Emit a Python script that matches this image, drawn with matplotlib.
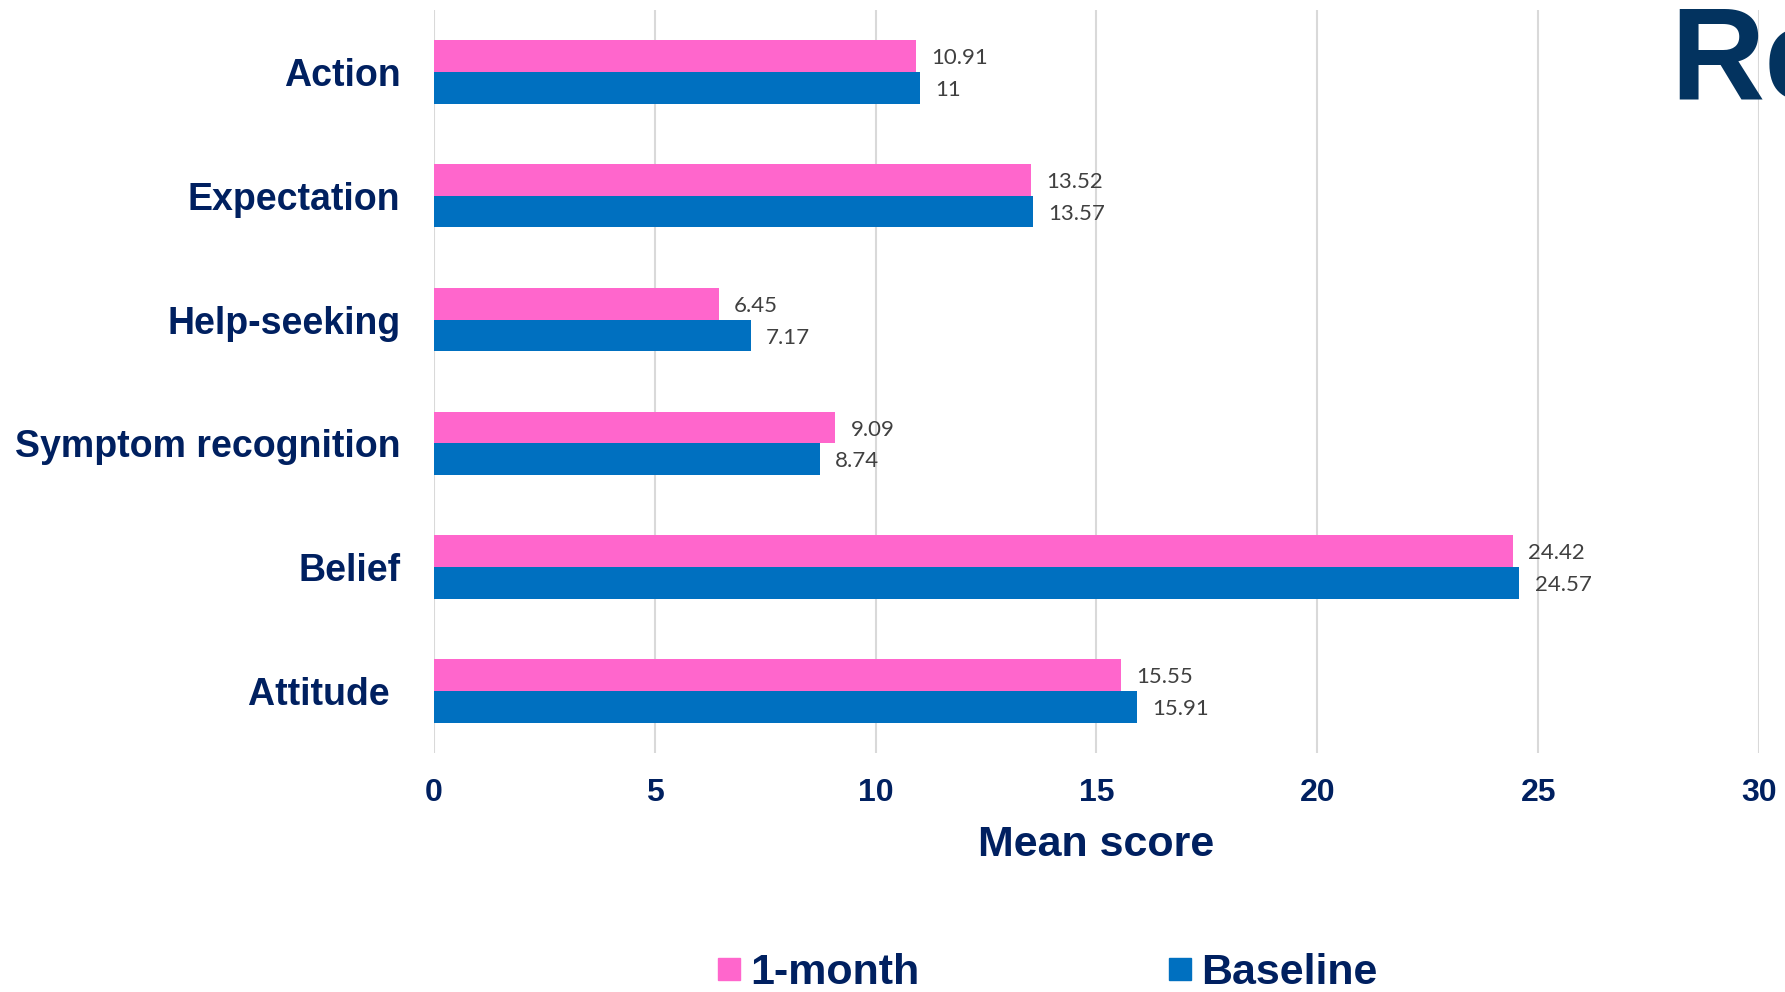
import matplotlib.pyplot as plt
from matplotlib.lines import Line2D
import numpy as np

# Data (top to bottom in the chart)
categories = ['Action', 'Expectation', 'Help-seeking', 'Symptom recognition', 'Belief', 'Attitude ']
one_month = [10.91, 13.52, 6.45, 9.09, 24.42, 15.55]
baseline = [11, 13.57, 7.17, 8.74, 24.57, 15.91]
x_ticks = [0, 5, 10, 15, 20, 25, 30]

pink = '#FF66CC'
blue = '#0070C0'
navy = '#002060'

plt.rcParams['font.family'] = ['Liberation Sans', 'DejaVu Sans']

fig = plt.figure(figsize=(17.85, 9.92), dpi=100)
ax = fig.add_axes([0.243, 0.241, 0.7425, 0.749])

# barh puts index 0 at bottom, so reverse the order
n = len(categories)
y = np.arange(n)[::-1]
h = 0.257

bars_m = ax.barh(y + h / 2, one_month, height=h, color=pink, label='1-month')
bars_b = ax.barh(y - h / 2, baseline, height=h, color=blue, label='Baseline')

# value labels
for bars in (bars_m, bars_b):
    for rect, v in zip(bars, bars.datavalues):
        ax.annotate(f'{v:g}', (rect.get_width(), rect.get_y() + rect.get_height() / 2),
                    xytext=(11, -1.5), textcoords='offset points', va='center', ha='left',
                    fontsize=16, color='#404040', family=['Lato', 'DejaVu Sans'])

ax.set_xlim(0, 30)
ax.set_ylim(-0.5, n - 0.5)
ax.set_xticks(x_ticks)
ax.set_yticks(y)
ax.set_yticklabels(categories)

ax.tick_params(axis='y', length=0, pad=24, labelsize=27, labelcolor=navy)
ax.tick_params(axis='x', length=0, pad=18, labelsize=23, labelcolor=navy)
for lab in ax.get_xticklabels() + ax.get_yticklabels():
    lab.set_fontweight('bold')

ax.grid(axis='x', color='#D9D9D9', linewidth=1.5)
ax.set_axisbelow(True)
for s in ax.spines.values():
    s.set_visible(False)

ax.set_xlabel('Mean score', fontsize=31, fontweight='bold', color=navy, labelpad=12)

# legend at the bottom
handles = [Line2D([], [], marker='s', linestyle='none', markersize=16, color=pink),
           Line2D([], [], marker='s', linestyle='none', markersize=16, color=blue)]
leg = fig.legend(handles, ['1-month', 'Baseline'], loc='center', bbox_to_anchor=(0.587, 0.019),
                 ncol=2, frameon=False, handlelength=0.5, handletextpad=0.25,
                 columnspacing=5.8, borderpad=0,
                 prop={'size': 31, 'weight': 'bold'})
for t in leg.get_texts():
    t.set_color(navy)

# slide title cut off at the right edge
fig.text(0.9355, 0.8997, 'Results', fontsize=94, fontweight='bold', color='#03335F',
         ha='left', va='baseline')

fig.savefig('out.png', dpi=100)
